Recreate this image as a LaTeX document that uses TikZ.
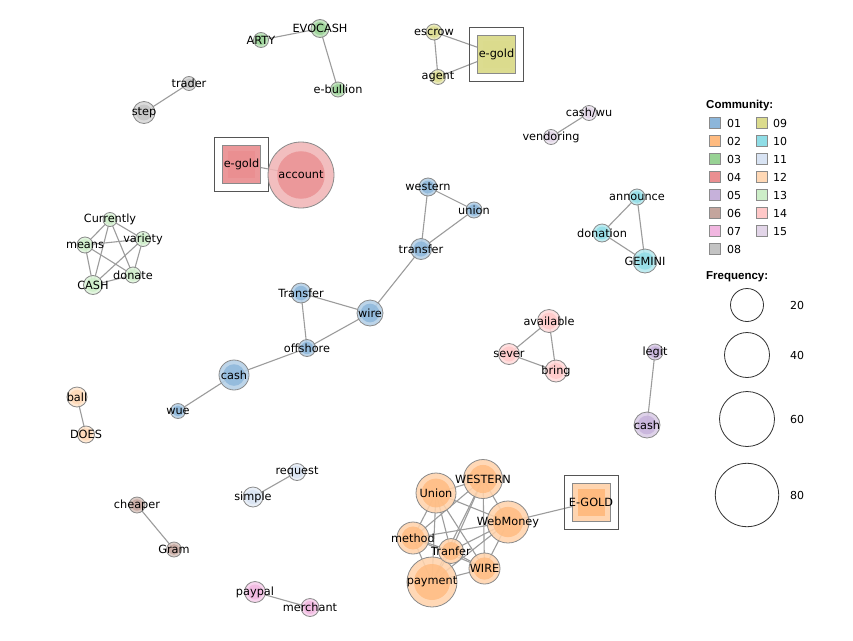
\documentclass[tikz,border=0pt]{standalone}
\usepackage{fontspec}
\setmainfont{DejaVu Sans}
\newfontfamily\legfont{Liberation Sans}
\pgfdeclarelayer{bg}
\pgfdeclarelayer{edges}
\pgfdeclarelayer{labels}
\pgfsetlayers{bg,edges,main,labels}
\definecolor{c01}{HTML}{8CB6DA}
\definecolor{c02}{HTML}{FFBB80}
\definecolor{c03}{HTML}{98D294}
\definecolor{c04}{HTML}{EA8F91}
\definecolor{c05}{HTML}{C6B1DA}
\definecolor{c06}{HTML}{C4A59D}
\definecolor{c07}{HTML}{F1B6E0}
\definecolor{c08}{HTML}{C3C3C3}
\definecolor{c09}{HTML}{DBDB8D}
\definecolor{c10}{HTML}{8FDDE6}
\definecolor{c11}{HTML}{D8E3F3}
\definecolor{c12}{HTML}{FFD8B5}
\definecolor{c13}{HTML}{CDEEC8}
\definecolor{c14}{HTML}{FFC8C8}
\definecolor{c15}{HTML}{E2D5E8}
\definecolor{edgecol}{HTML}{9C9C9C}
\definecolor{bordcol}{HTML}{8A8A8A}
\definecolor{framecol}{HTML}{555555}
\tikzset{
  gnode/.style={circle, inner sep=0pt, draw=bordcol, line width=0.8pt, fill opacity=0.88},
  gcore/.style={circle, inner sep=0pt, fill opacity=0.8},
  sqnode/.style={rectangle, inner sep=0pt, draw=bordcol, line width=0.8pt, minimum size=38pt},
  sqcore/.style={rectangle, inner sep=0pt, minimum size=27pt},
  sqframe/.style={rectangle, inner sep=0pt, draw=framecol, line width=0.8pt, minimum size=54pt},
  lab/.style={inner sep=0pt, font=\fontsize{11.3}{13}\selectfont, text=black},
  edge/.style={draw=edgecol, line width=1.1pt},
  legsq/.style={rectangle, inner sep=0pt, minimum size=11pt, draw=bordcol, line width=0.8pt},
  legtxt/.style={inner sep=0pt, anchor=west, font=\fontsize{11}{13}\selectfont},
  leghead/.style={inner sep=0pt, anchor=west, font=\legfont\bfseries\fontsize{11.5}{13}\selectfont},
  freqc/.style={circle, inner sep=0pt, draw=black!80, line width=0.8pt}
}
% circle node: name, x, y, radius, colour, label
\newcommand\gn[6]{%
  \node[gnode, minimum size=#4*2pt, fill=#5!65!white] (#1) at (#2,#3) {};
  \node[gcore, minimum size=#4*1.44pt, fill=#5] (#1c) at (#2,#3) {};
  \begin{pgfonlayer}{labels}\node[lab] (#1t) at (#2,#3) {#6};\end{pgfonlayer}}
% square node: name, x, y, colour, label, ring mix
\newcommand\gs[6]{%
  \node[sqframe] (#1f) at (#2,#3) {};
  \node[sqnode, fill=#4!#6!white] (#1) at (#2,#3) {};
  \node[sqcore, fill=#4] (#1c) at (#2,#3) {};
  \begin{pgfonlayer}{labels}\node[lab] (#1t) at (#2,#3) {#5};\end{pgfonlayer}}
\begin{document}
\begin{tikzpicture}[x=1pt,y=-1pt]
\useasboundingbox (0,0) rectangle (853,640);
\begin{pgfonlayer}{bg}\fill[white] (0,0) rectangle (853,640);\end{pgfonlayer}

% community 03 / 08
\gn{arty}{261}{40}{7.5}{c03}{ARTY}
\gn{evocash}{320}{28.5}{9}{c03}{EVOCASH}
\gn{ebullion}{338}{89.5}{7.5}{c03}{e-bullion}
\gn{trader}{189}{83.5}{7}{c08}{trader}
\gn{step}{144}{112.5}{11}{c08}{step}
% community 04
\gs{egoldA}{241.5}{164}{c04}{e-gold}{93}
\gn{account}{301}{175}{33}{c04}{account}
% community 09
\gn{escrow}{434}{32}{8}{c09}{escrow}
\gn{agent}{438}{77}{7.5}{c09}{agent}
\gs{egoldB}{496.5}{54}{c09}{e-gold}{97}
% community 15
\gn{cashwu}{589}{113}{7.5}{c15}{cash/wu}
\gn{vendoring}{551}{137}{7.5}{c15}{vendoring}
% community 13
\gn{currently}{110}{219.5}{7}{c13}{Currently}
\gn{variety}{143}{239}{7.5}{c13}{variety}
\gn{means}{85}{245}{8}{c13}{means}
\gn{donate}{133}{275}{8}{c13}{donate}
\gn{cashC}{93}{285}{9.5}{c13}{CASH}
% community 01
\gn{western}{428}{187}{9}{c01}{western}
\gn{union}{474}{210}{8}{c01}{union}
\gn{transferA}{421}{249}{10.5}{c01}{transfer}
\gn{transferB}{301}{293}{10}{c01}{Transfer}
\gn{wire}{370}{313}{13}{c01}{wire}
\gn{offshore}{307}{348}{8.5}{c01}{offshore}
\gn{cashA}{234}{375}{15}{c01}{cash}
\gn{wue}{178}{411}{7.5}{c01}{wue}
% community 10
\gn{announce}{637}{197}{8}{c10}{announce}
\gn{donation}{602}{233}{9}{c10}{donation}
\gn{gemini}{645}{261}{12}{c10}{GEMINI}
% community 14
\gn{available}{549}{321}{11.5}{c14}{available}
\gn{sever}{509}{354}{10.5}{c14}{sever}
\gn{bring}{556}{371}{11}{c14}{bring}
% community 05
\gn{legit}{655}{352}{8}{c05}{legit}
\gn{cashB}{647}{425}{13}{c05}{cash}
% community 12 / 11 / 06 / 07
\gn{ball}{77}{397}{10}{c12}{ball}
\gn{does}{86}{434.5}{8.5}{c12}{DOES}
\gn{request}{297}{472}{8.5}{c11}{request}
\gn{simple}{253}{497}{10}{c11}{simple}
\gn{cheaper}{137}{505}{8}{c06}{cheaper}
\gn{gram}{174}{549.5}{7.5}{c06}{Gram}
\gn{paypal}{255}{592}{10.5}{c07}{paypal}
\gn{merchant}{310}{607.5}{9}{c07}{merchant}
% community 02
\gn{unionB}{436}{493}{20}{c02}{Union}
\gn{westernB}{483}{479}{19.5}{c02}{WESTERN}
\gn{webmoney}{508}{522}{21}{c02}{WebMoney}
\gn{method}{413}{538}{16}{c02}{method}
\gn{wireB}{484.5}{568.5}{15.5}{c02}{WIRE}
\gn{payment}{432}{582}{25}{c02}{payment}
\gn{tranfer}{451}{551}{12.5}{c02}{Tranfer}
\gs{egoldC}{591}{502}{c02}{E-GOLD}{62}

\begin{pgfonlayer}{edges}
\foreach \a/\b in {arty/evocash, evocash/ebullion, trader/step, egoldA/account,
  escrow/egoldB, agent/egoldB, escrow/agent, cashwu/vendoring,
  currently/variety, currently/means, currently/donate, currently/cashC,
  variety/means, variety/donate, variety/cashC, means/donate, means/cashC, donate/cashC,
  western/union, western/transferA, union/transferA, transferA/wire,
  transferB/wire, transferB/offshore, offshore/wire, offshore/cashA, cashA/wue,
  announce/donation, announce/gemini, donation/gemini,
  available/sever, available/bring, sever/bring, legit/cashB,
  ball/does, request/simple, cheaper/gram, paypal/merchant,
  unionB/westernB, unionB/webmoney, unionB/method, unionB/wireB, unionB/payment, unionB/tranfer,
  westernB/webmoney, westernB/method, westernB/wireB, westernB/payment, westernB/tranfer,
  webmoney/method, webmoney/wireB, webmoney/payment, webmoney/tranfer,
  method/wireB, method/payment, method/tranfer,
  wireB/payment, wireB/tranfer, payment/tranfer, webmoney/egoldC}
  \draw[edge] (\a.center) -- (\b.center);
\end{pgfonlayer}

% legend
\node[leghead] (lhc) at (706,105.7) {Community:};
\foreach \n/\c [count=\i from 0] in {01/c01,02/c02,03/c03,04/c04,05/c05,06/c06,07/c07,08/c08} {
  \node[legsq, fill=\c] (lsq\n) at (715,123.3+18*\i) {};
  \node[legtxt] (ltx\n) at (727,123.3+18*\i) {\n};
}
\foreach \n/\c [count=\i from 0] in {09/c09,10/c10,11/c11,12/c12,13/c13,14/c14,15/c15} {
  \node[legsq, fill=\c] (lsq\n) at (762,123.3+18*\i) {};
  \node[legtxt] (ltx\n) at (773,123.3+18*\i) {\n};
}
\node[leghead] (lhf) at (706,277) {Frequency:};
\foreach \v/\y/\r in {20/305/16.5, 40/355/22.5, 60/419/27.5, 80/495/31.7} {
  \node[freqc, minimum size=\r*2pt] (fc\v) at (747,\y) {};
  \node[legtxt, anchor=center] (ft\v) at (797,\y) {\v};
}
\end{tikzpicture}
\end{document}
